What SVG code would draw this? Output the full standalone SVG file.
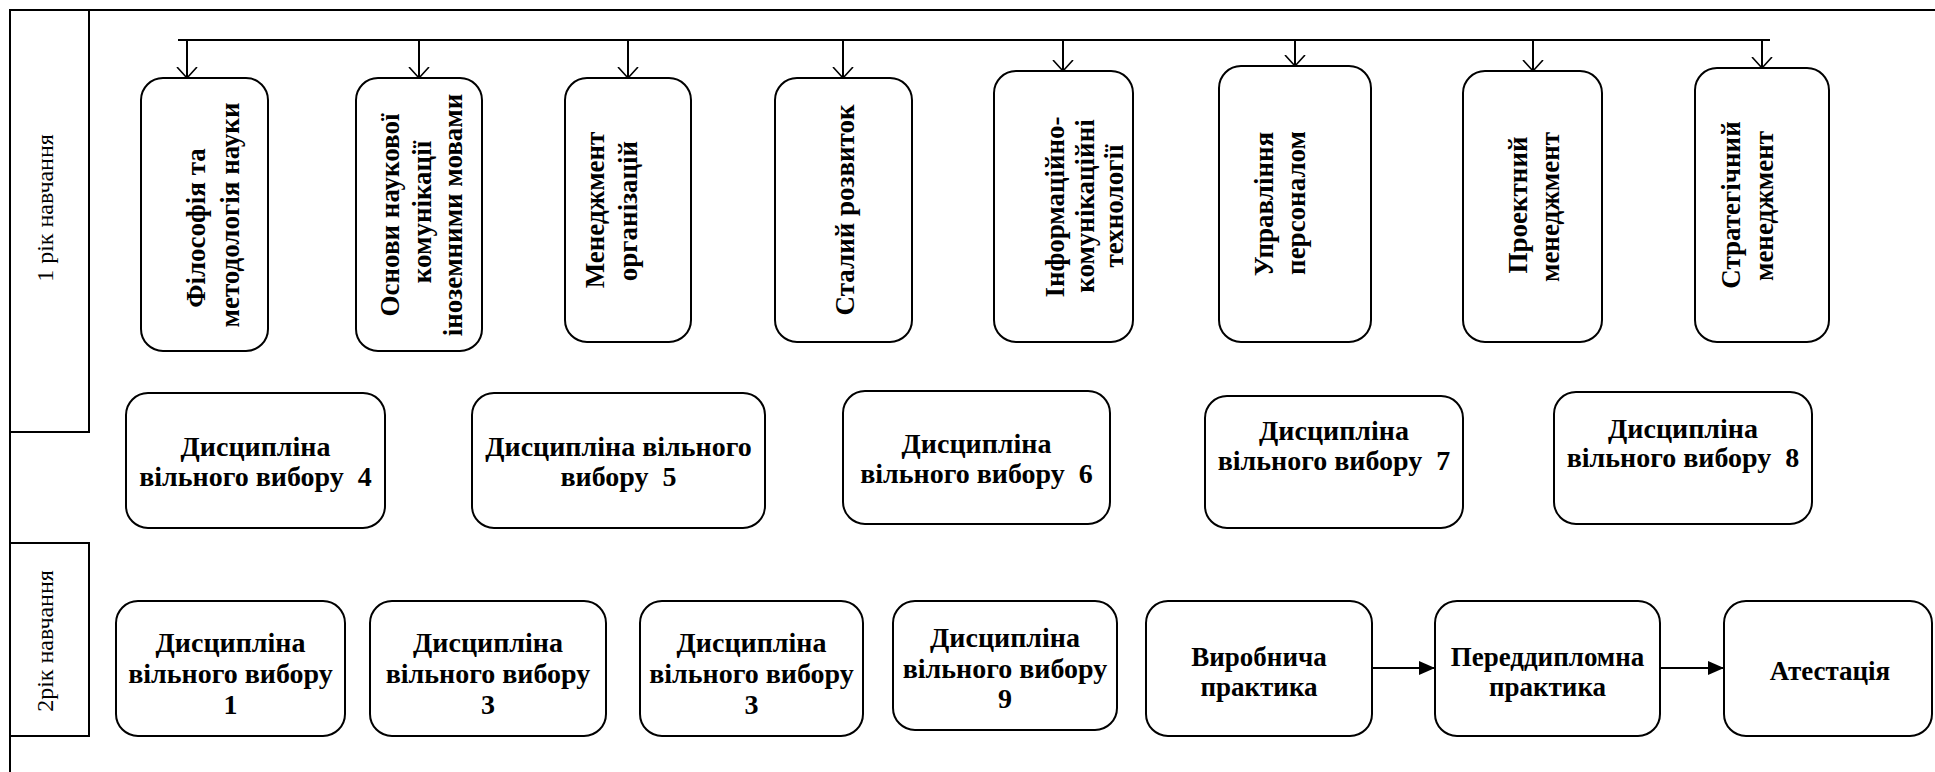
<svg xmlns="http://www.w3.org/2000/svg" width="1935" height="772" viewBox="0 0 1935 772">
<style>
.frame{fill:none;stroke:#000;stroke-width:2}
.box{fill:#fff;stroke:#000;stroke-width:2}
.lbl{font-family:"Liberation Serif","Times New Roman",serif;font-size:24px;fill:#000;text-anchor:middle}
.t{font-family:"Liberation Serif","Times New Roman",serif;font-size:27px;font-weight:bold;fill:#000;text-anchor:middle}
.d{font-size:28px}
.ln{fill:none;stroke:#000;stroke-width:2}
</style>
<defs>
<marker id="open" markerWidth="12" markerHeight="22" viewBox="0 0 12 22" refX="11" refY="11" orient="auto" markerUnits="userSpaceOnUse">
<path d="M0,1 L11,11 L0,21" fill="none" stroke="#000" stroke-width="1.6"/>
</marker>
<marker id="solid" markerWidth="16" markerHeight="14" viewBox="0 0 16 14" refX="16" refY="7" orient="auto" markerUnits="userSpaceOnUse">
<path d="M0,0 L16,7 L0,14 Z" fill="#000"/>
</marker>
</defs>
<rect width="1935" height="772" fill="#fff"/>
<g id="frame">
<path class="frame" d="M10,772 L10,10 L1935,10"/>
</g>
<g id="year1">
<rect class="frame" x="10" y="10" width="79" height="422"/>
<text class="lbl" transform="translate(53,208) rotate(-90)">1 рік навчання</text>
</g>
<g id="year2">
<rect class="frame" x="10" y="543" width="79" height="193"/>
<text class="lbl" transform="translate(53,641) rotate(-90)">2рік навчання</text>
</g>
<g id="connectors">
<path class="ln" d="M178,40 L1770,40"/>
<path class="ln" d="M187,40 L187,78" marker-end="url(#open)"/>
<path class="ln" d="M419,40 L419,78" marker-end="url(#open)"/>
<path class="ln" d="M628,40 L628,78" marker-end="url(#open)"/>
<path class="ln" d="M843,40 L843,78" marker-end="url(#open)"/>
<path class="ln" d="M1063,40 L1063,71" marker-end="url(#open)"/>
<path class="ln" d="M1295,40 L1295,66" marker-end="url(#open)"/>
<path class="ln" d="M1533,40 L1533,71" marker-end="url(#open)"/>
<path class="ln" d="M1762,40 L1762,68" marker-end="url(#open)"/>
<path class="ln" d="M1372,668 L1435,668" marker-end="url(#solid)"/>
<path class="ln" d="M1660,668 L1724,668" marker-end="url(#solid)"/>
</g>
<g id="n-philosophy">
<rect class="box" x="141" y="78" width="127" height="273" rx="22"/>
<text class="t" transform="translate(205,228) rotate(-90)">Філософія та</text>
<text class="t" transform="translate(239,215) rotate(-90)">методологія науки</text>
</g>
<g id="n-communication">
<rect class="box" x="356" y="78" width="126" height="273" rx="22"/>
<text class="t" transform="translate(399,215) rotate(-90)">Основи наукової</text>
<text class="t" transform="translate(431,212) rotate(-90)">комунікації</text>
<text class="t" transform="translate(462,215) rotate(-90)">іноземними мовами</text>
</g>
<g id="n-management">
<rect class="box" x="565" y="78" width="126" height="264" rx="22"/>
<text class="t" transform="translate(604,210) rotate(-90)">Менеджмент</text>
<text class="t" transform="translate(637,211) rotate(-90)">організацій</text>
</g>
<g id="n-sustainable">
<rect class="box" x="775" y="78" width="137" height="264" rx="22"/>
<text class="t" transform="translate(854,210) rotate(-90)">Сталий  розвиток</text>
</g>
<g id="n-ict">
<rect class="box" x="994" y="71" width="139" height="271" rx="22"/>
<text class="t" transform="translate(1064,207) rotate(-90)">Інформаційно-</text>
<text class="t" transform="translate(1094,206) rotate(-90)">комунікаційні</text>
<text class="t" transform="translate(1123,206) rotate(-90)">технології</text>
</g>
<g id="n-hr">
<rect class="box" x="1219" y="66" width="152" height="276" rx="22"/>
<text class="t" transform="translate(1273,204) rotate(-90)">Управління</text>
<text class="t" transform="translate(1305,203) rotate(-90)">персоналом</text>
</g>
<g id="n-project">
<rect class="box" x="1463" y="71" width="139" height="271" rx="22"/>
<text class="t" transform="translate(1527,205) rotate(-90)">Проектний</text>
<text class="t" transform="translate(1559,207) rotate(-90)">менеджмент</text>
</g>
<g id="n-strategic">
<rect class="box" x="1695" y="68" width="134" height="274" rx="22"/>
<text class="t" transform="translate(1740,205) rotate(-90)">Стратегічний</text>
<text class="t" transform="translate(1773,206) rotate(-90)">менеджмент</text>
</g>
<g id="n-dvv4">
<rect class="box" x="126" y="393" width="259" height="135" rx="22"/>
<text class="t d" x="255.5" y="456">Дисципліна</text>
<text class="t d" x="255.5" y="486">вільного вибору&#160; 4</text>
</g>
<g id="n-dvv5">
<rect class="box" x="472" y="393" width="293" height="135" rx="22"/>
<text class="t d" x="618.5" y="456">Дисципліна вільного</text>
<text class="t d" x="618.5" y="486">вибору&#160; 5</text>
</g>
<g id="n-dvv6">
<rect class="box" x="843" y="391" width="267" height="133" rx="22"/>
<text class="t d" x="976.5" y="453">Дисципліна</text>
<text class="t d" x="976.5" y="483">вільного вибору&#160; 6</text>
</g>
<g id="n-dvv7">
<rect class="box" x="1205" y="396" width="258" height="132" rx="22"/>
<text class="t d" x="1334" y="440">Дисципліна</text>
<text class="t d" x="1334" y="470">вільного вибору&#160; 7</text>
</g>
<g id="n-dvv8">
<rect class="box" x="1554" y="392" width="258" height="132" rx="22"/>
<text class="t d" x="1683" y="438">Дисципліна</text>
<text class="t d" x="1683" y="467">вільного вибору&#160; 8</text>
</g>
<g id="n-dvv1">
<rect class="box" x="116" y="601" width="229" height="135" rx="22"/>
<text class="t d" x="230.5" y="652">Дисципліна</text>
<text class="t d" x="230.5" y="683">вільного вибору</text>
<text class="t d" x="230.5" y="714">1</text>
</g>
<g id="n-dvv3a">
<rect class="box" x="370" y="601" width="236" height="135" rx="22"/>
<text class="t d" x="488" y="652">Дисципліна</text>
<text class="t d" x="488" y="683">вільного вибору</text>
<text class="t d" x="488" y="714">3</text>
</g>
<g id="n-dvv3b">
<rect class="box" x="640" y="601" width="223" height="135" rx="22"/>
<text class="t d" x="751.5" y="652">Дисципліна</text>
<text class="t d" x="751.5" y="683">вільного вибору</text>
<text class="t d" x="751.5" y="714">3</text>
</g>
<g id="n-dvv9">
<rect class="box" x="893" y="601" width="224" height="129" rx="22"/>
<text class="t d" x="1005" y="647">Дисципліна</text>
<text class="t d" x="1005" y="678">вільного вибору</text>
<text class="t d" x="1005" y="708">9</text>
</g>
<g id="n-production">
<rect class="box" x="1146" y="601" width="226" height="135" rx="22"/>
<text class="t" x="1259" y="666">Виробнича</text>
<text class="t" x="1259" y="696">практика</text>
</g>
<g id="n-prediploma">
<rect class="box" x="1435" y="601" width="225" height="135" rx="22"/>
<text class="t" x="1547.5" y="666">Переддипломна</text>
<text class="t" x="1547.5" y="696">практика</text>
</g>
<g id="n-attestation">
<rect class="box" x="1724" y="601" width="208" height="135" rx="22"/>
<text class="t" x="1830" y="680">Атестація</text>
</g>
</svg>
